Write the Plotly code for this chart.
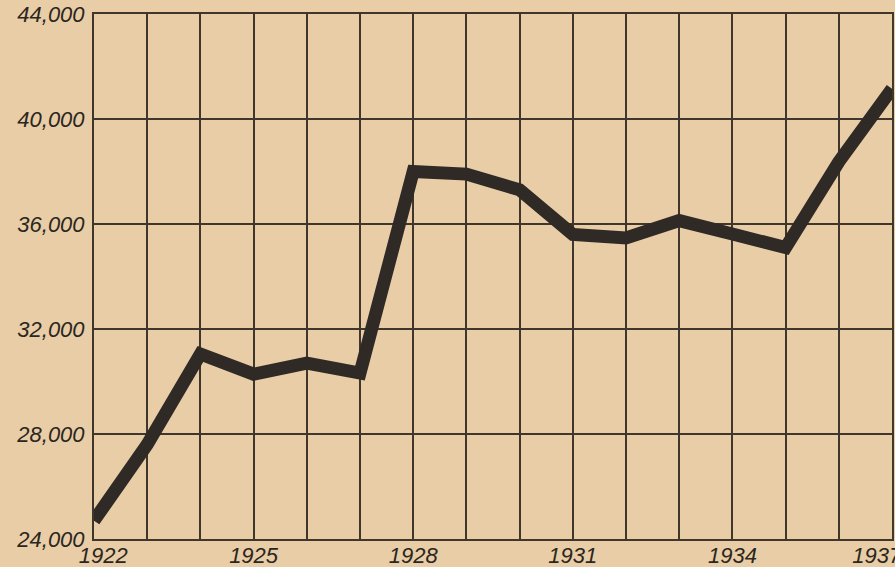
import plotly.graph_objects as go

years = [1922, 1923, 1924, 1925, 1926, 1927, 1928, 1929, 1930, 1931, 1932, 1933, 1934, 1935, 1936, 1937]
values = [24700, 27600, 31050, 30280, 30700, 30320, 38000, 37900, 37300, 35600, 35470, 36130, 35620, 35100, 38370, 41150]
x_label_years = [1922, 1925, 1928, 1931, 1934, 1937]
y_ticks = [24000, 28000, 32000, 36000, 40000, 44000]
y_labels = ["24,000", "28,000", "32,000", "36,000", "40,000", "44,000"]

paper = "#E8CDA7"
ink = "#2F2A25"
grid = "#3F362C"

NB = "\u00a0"


def x_label(y):
    if y not in x_label_years:
        return ""
    s = str(y)
    if y == years[0]:
        return NB * 3 + s
    if y == years[-1]:
        return s + NB * 5
    return s


x_ticktext = [x_label(y) for y in years]

fig = go.Figure()
fig.add_trace(go.Scatter(
    x=years, y=values, mode="lines",
    line=dict(color=ink, width=13),
    hoverinfo="skip", showlegend=False,
))

font = dict(family="Liberation Sans", size=22, color="#2B2620", style="italic")

fig.update_layout(
    width=895, height=567,
    margin=dict(l=94, r=3, t=14, b=28),
    paper_bgcolor=paper, plot_bgcolor=paper,
    xaxis=dict(
        range=[1922, 1937], tickvals=years, ticktext=x_ticktext,
        showgrid=True, gridcolor=grid, gridwidth=2,
        showline=True, linecolor=grid, linewidth=2, mirror=True,
        ticks="", tickfont=font, zeroline=False, ticklabelstandoff=-4,
        automargin=False, ticklabeloverflow="allow",
    ),
    yaxis=dict(
        range=[24000, 44000], tickvals=y_ticks, ticktext=y_labels,
        showgrid=True, gridcolor=grid, gridwidth=2,
        showline=True, linecolor=grid, linewidth=2, mirror=True,
        ticks="", tickfont=font, zeroline=False, ticklabelstandoff=3,
        automargin=False, ticklabeloverflow="allow",
    ),
)

fig.write_html(
    "out.html",
    config={"displayModeBar": False},
    post_script="document.body.style.margin='0';document.body.style.background='" + paper + "';",
)
